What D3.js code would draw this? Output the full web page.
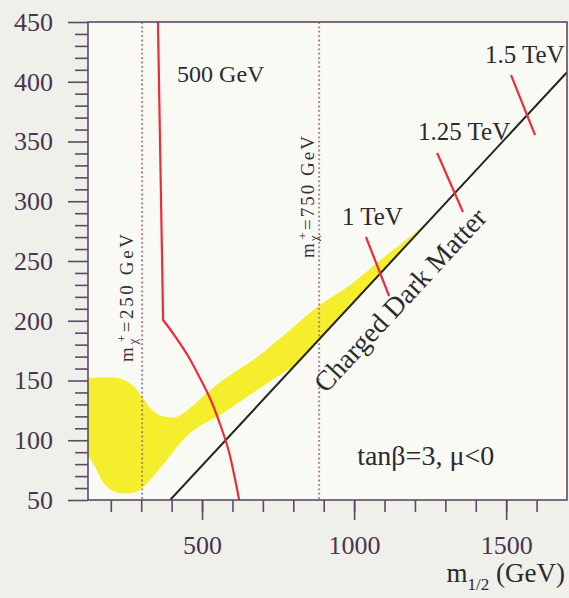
<!DOCTYPE html>
<html>
<head>
<meta charset="utf-8">
<script src="https://cdn.jsdelivr.net/npm/d3@7"></script>
<style>
  html, body { margin: 0; padding: 0; background: #eef0e9; }
  svg { display: block; }
  text { font-family: "Liberation Serif", "Times New Roman", serif; }
</style>
</head>
<body>
<svg id="chart" width="569" height="598" font-family="Liberation Serif, Times New Roman, serif"></svg>
<script>
// ---- axis ticks (m_1/2 and m_0, GeV) ----
const xMajorTicks = [500, 1000, 1500];
const xMinorTicks = [200, 300, 400, 500, 600, 700, 800, 900, 1000, 1100, 1200, 1300, 1400, 1500, 1600];
const yMajorTicks = [50, 100, 150, 200, 250, 300, 350, 400, 450];
const yMinorTicks = [60, 70, 80, 90, 110, 120, 130, 140, 160, 170, 180, 190, 210, 220, 230, 240,
                     260, 270, 280, 290, 310, 320, 330, 340, 360, 370, 380, 390, 410, 420, 430, 440];

// ---- cosmologically preferred band: upper and lower edges (m_1/2, m_0) ----
const bandUpper = [[125, 152.1], [224, 152.1], [270, 146.2], [303, 136.2], [336, 125.3], [368, 120.3],
                   [415, 119.5], [461, 127.0], [516, 139.5], [569, 150.4], [681, 169.7], [789, 192.3],
                   [878, 211.5], [987, 229.9], [1095, 252.5], [1207, 275.1], [1273, 290.2], [1315, 301.9],
                   [1358, 313.6], [1391, 322.8]];
const bandLower = [[125, 87.7], [148, 77.6], [181, 62.6], [214, 56.7], [270, 55.9], [303, 60.0],
                   [368, 78.5], [461, 106.1], [569, 122.8], [681, 142.1], [756, 154.6], [810, 163.5],
                   [1000, 216.0], [1200, 270.8], [1391, 323.2]];

// ---- 500 GeV contour ----
const contour500 = [[355, 450], [372, 200.6], [411, 187.2], [454, 170.5], [493, 152.1], [530, 132.8],
                    [559, 113.6], [586, 92.7], [605, 71.8], [622, 50]];

// ---- charged dark matter boundary ----
const chargedBoundary = [[395, 50], [1700, 408]];

// ---- mass marks across the boundary ----
const massMarkLabels = ["1 TeV", "1.25 TeV", "1.5 TeV"];
const massMarkSegments = [
  [[1039, 270.1], [1115, 220.7]],
  [[1273, 340.4], [1358, 291.0]],
  [[1516, 405.6], [1595, 355.4]]
];
const massMarkLabelAt = [[960, 280], [1210, 351], [1430, 415.7]];

// ---- chargino mass lines ----
const charginoMasses = ["250", "750"];
const charginoM12 = [303, 885];

// ---- layout ----
const plot = { left: 88, right: 567, top: 22, bottom: 500 };
const axisColor = "#5d4a68";
const labelColor = "#4a3450";
const inkColor = "#2b2a30";
const red = "#ee2b3a";
const serif = "Liberation Serif, Times New Roman, serif";

const svg = d3.select("#chart");

const x = d3.scaleLinear().domain([125, 1700]).range([plot.left, plot.right]);
const y = d3.scaleLinear().domain([50, 450]).range([plot.bottom, plot.top]);

// plot area
svg.append("rect")
  .attr("x", plot.left).attr("y", plot.top)
  .attr("width", plot.right - plot.left).attr("height", plot.bottom - plot.top)
  .attr("fill", "#fafaf5");

svg.append("clipPath").attr("id", "clip")
  .append("rect")
  .attr("x", plot.left).attr("y", plot.top)
  .attr("width", plot.right - plot.left).attr("height", plot.bottom - plot.top);

const g = svg.append("g").attr("clip-path", "url(#clip)");

// yellow band
const smooth = d3.line().x(d => x(d[0])).y(d => y(d[1])).curve(d3.curveCatmullRom.alpha(0.5));
const bandPath = smooth(bandUpper) + smooth(bandLower.slice().reverse()).replace(/^M/, "L") + "Z";
g.append("path").attr("d", bandPath).attr("fill", "#f5ee2c");

// chargino lines (dotted)
g.selectAll("line.chargino").data(charginoM12).join("line")
  .attr("class", "chargino")
  .attr("x1", d => x(d)).attr("x2", d => x(d))
  .attr("y1", plot.top).attr("y2", plot.bottom)
  .attr("stroke", "#b07896").attr("stroke-width", 2)
  .attr("stroke-dasharray", "1.8,2.6");

// charged dark matter boundary
g.append("path")
  .attr("d", d3.line().x(d => x(d[0])).y(d => y(d[1]))(chargedBoundary))
  .attr("fill", "none").attr("stroke", "#23222a").attr("stroke-width", 2);

// 500 GeV contour: straight vertical run, then a smooth bend down to the axis
const top500 = contour500[0];
const contourPath = `M${x(top500[0])},${y(top500[1])}` + smooth(contour500.slice(1)).replace(/^M/, "L");
g.append("path")
  .attr("d", contourPath)
  .attr("fill", "none").attr("stroke", red).attr("stroke-width", 2.2)
  .attr("stroke-linejoin", "round");

// mass marks
g.selectAll("line.mark").data(massMarkSegments).join("line")
  .attr("class", "mark")
  .attr("x1", d => x(d[0][0])).attr("y1", d => y(d[0][1]))
  .attr("x2", d => x(d[1][0])).attr("y2", d => y(d[1][1]))
  .attr("stroke", red).attr("stroke-width", 2.2);

// frame
svg.append("rect")
  .attr("x", plot.left).attr("y", plot.top)
  .attr("width", plot.right - plot.left).attr("height", plot.bottom - plot.top)
  .attr("fill", "none").attr("stroke", axisColor).attr("stroke-width", 1.6);

// axes
function styleAxis(sel) {
  sel.attr("font-family", serif);
  sel.select(".domain").remove();
  sel.selectAll(".tick line").attr("stroke", axisColor).attr("stroke-width", 1.6);
}
const xMinor = svg.append("g").attr("transform", `translate(0,${plot.bottom})`)
  .call(d3.axisBottom(x).tickValues(xMinorTicks).tickSize(12).tickFormat(""));
styleAxis(xMinor);
const xMajor = svg.append("g").attr("transform", `translate(0,${plot.bottom})`)
  .call(d3.axisBottom(x).tickValues(xMajorTicks).tickSize(20).tickPadding(16).tickFormat(d3.format("d")));
styleAxis(xMajor);
xMajor.selectAll(".tick text")
  .attr("fill", labelColor).attr("font-size", 26).attr("font-family", serif);

const yMinor = svg.append("g").attr("transform", `translate(${plot.left},0)`)
  .call(d3.axisLeft(y).tickValues(yMinorTicks).tickSize(13).tickFormat(""));
styleAxis(yMinor);
const yMajor = svg.append("g").attr("transform", `translate(${plot.left},0)`)
  .call(d3.axisLeft(y).tickValues(yMajorTicks).tickSize(20).tickPadding(15).tickFormat(d3.format("d")));
styleAxis(yMajor);
yMajor.selectAll(".tick text")
  .attr("fill", labelColor).attr("font-size", 26).attr("font-family", serif);

// x-axis title: m_1/2 (GeV)
const xt = svg.append("text")
  .attr("x", 565).attr("y", 582)
  .attr("text-anchor", "end")
  .attr("fill", inkColor).attr("font-size", 27);
xt.append("tspan").text("m");
xt.append("tspan").attr("font-size", 17).attr("dy", 8).text("1/2");
xt.append("tspan").attr("dy", -8).text(" (GeV)");

// contour and mass labels
svg.append("text")
  .attr("x", x(418)).attr("y", y(399.8))
  .attr("fill", inkColor).attr("font-size", 24)
  .text("500 GeV");

svg.selectAll("text.mass").data(massMarkLabels).join("text")
  .attr("class", "mass")
  .attr("x", (d, i) => x(massMarkLabelAt[i][0]))
  .attr("y", (d, i) => y(massMarkLabelAt[i][1]))
  .attr("fill", inkColor).attr("font-size", 25)
  .text(d => d);

// boundary label, along the line
const ang = Math.atan2(y(chargedBoundary[1][1]) - y(chargedBoundary[0][1]),
                       x(chargedBoundary[1][0]) - x(chargedBoundary[0][0])) * 180 / Math.PI;
svg.append("text")
  .attr("transform", `translate(${x(907)},${y(138.7)}) rotate(${ang})`)
  .attr("fill", inkColor).attr("font-size", 28)
  .text("Charged Dark Matter");

// model parameters
svg.append("text")
  .attr("x", x(1010)).attr("y", y(79.3))
  .attr("fill", inkColor).attr("font-size", 28)
  .text("tanβ=3, μ<0");

// chargino labels (vertical)
const charginoLabelBase = [[133, 362], [314, 258]];
const charginoLabelLen = [128, 122];
charginoMasses.forEach((m, i) => {
  const t = svg.append("text")
    .attr("transform", `translate(${charginoLabelBase[i][0]},${charginoLabelBase[i][1]}) rotate(-90)`)
    .attr("fill", "#3a2f3c").attr("font-size", 19)
    .attr("textLength", charginoLabelLen[i]).attr("lengthAdjust", "spacing");
  t.append("tspan").text("m");
  t.append("tspan").attr("font-size", 13).attr("dy", 4).text("χ");
  t.append("tspan").attr("font-size", 13).attr("dy", -11).attr("dx", -6).text("+");
  t.append("tspan").attr("dy", 7).text("=" + m + " GeV");
});
</script>
</body>
</html>
